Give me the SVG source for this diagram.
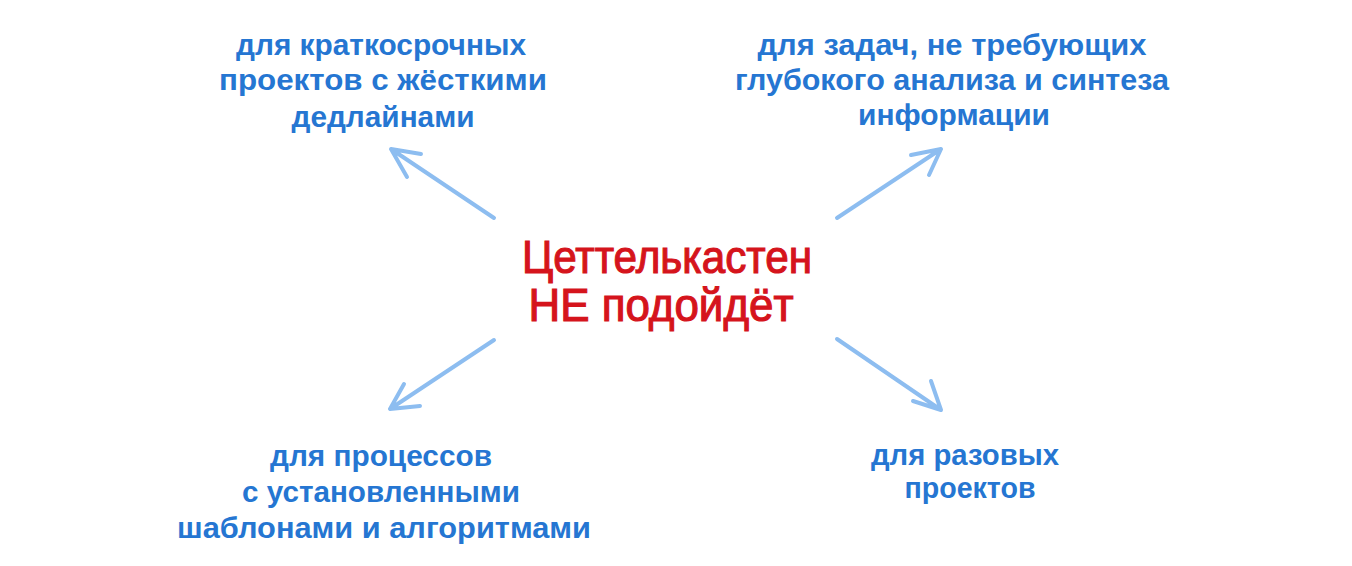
<svg xmlns="http://www.w3.org/2000/svg" width="1352" height="566" viewBox="0 0 1352 566">
<style>
.lbl{font-family:"Liberation Sans","DejaVu Sans",sans-serif;font-weight:bold;font-size:29px;fill:#2576d2;text-anchor:middle}
.main{font-family:"Liberation Sans","DejaVu Sans",sans-serif;font-size:47px;fill:#d5141c;stroke:#d5141c;stroke-width:1.2;text-anchor:middle}
.arr{stroke:#8dbdf0;stroke-width:4;stroke-linecap:round;stroke-linejoin:round;fill:none}
</style>
<rect width="1352" height="566" fill="#ffffff"/>
<g id="connectors">
<path class="arr" d="M494 218 L391 149 M421 154 L391 149 L407 177"/>
<path class="arr" d="M837 218 L941 149 M911 155 L941 149 L929 175"/>
<path class="arr" d="M494 340 L390 409 M404 384 L390 409 L420 406"/>
<path class="arr" d="M837 339 L941 410 M931 381 L941 410 L913 401"/>
</g>
<g id="center">
<text class="main" x="667" y="273" textLength="290" lengthAdjust="spacingAndGlyphs">Цеттелькастен</text>
<text class="main" x="661" y="321" textLength="265" lengthAdjust="spacingAndGlyphs">НЕ подойдёт</text>
</g>
<g id="top-left">
<text class="lbl" x="381" y="55" textLength="290" lengthAdjust="spacingAndGlyphs">для краткосрочных</text>
<text class="lbl" x="383" y="90" textLength="328" lengthAdjust="spacingAndGlyphs">проектов с жёсткими</text>
<text class="lbl" x="383" y="127" textLength="183" lengthAdjust="spacingAndGlyphs">дедлайнами</text>
</g>
<g id="top-right">
<text class="lbl" x="952" y="55" textLength="389" lengthAdjust="spacingAndGlyphs">для задач, не требующих</text>
<text class="lbl" x="952" y="90" textLength="434" lengthAdjust="spacingAndGlyphs">глубокого анализа и синтеза</text>
<text class="lbl" x="954" y="125" textLength="192" lengthAdjust="spacingAndGlyphs">информации</text>
</g>
<g id="bottom-left">
<text class="lbl" x="381" y="466" textLength="222" lengthAdjust="spacingAndGlyphs">для процессов</text>
<text class="lbl" x="381" y="502" textLength="278" lengthAdjust="spacingAndGlyphs">с установленными</text>
<text class="lbl" x="384" y="538" textLength="414" lengthAdjust="spacingAndGlyphs">шаблонами и алгоритмами</text>
</g>
<g id="bottom-right">
<text class="lbl" x="965" y="465" textLength="188" lengthAdjust="spacingAndGlyphs">для разовых</text>
<text class="lbl" x="970" y="498" textLength="131" lengthAdjust="spacingAndGlyphs">проектов</text>
</g>
</svg>
